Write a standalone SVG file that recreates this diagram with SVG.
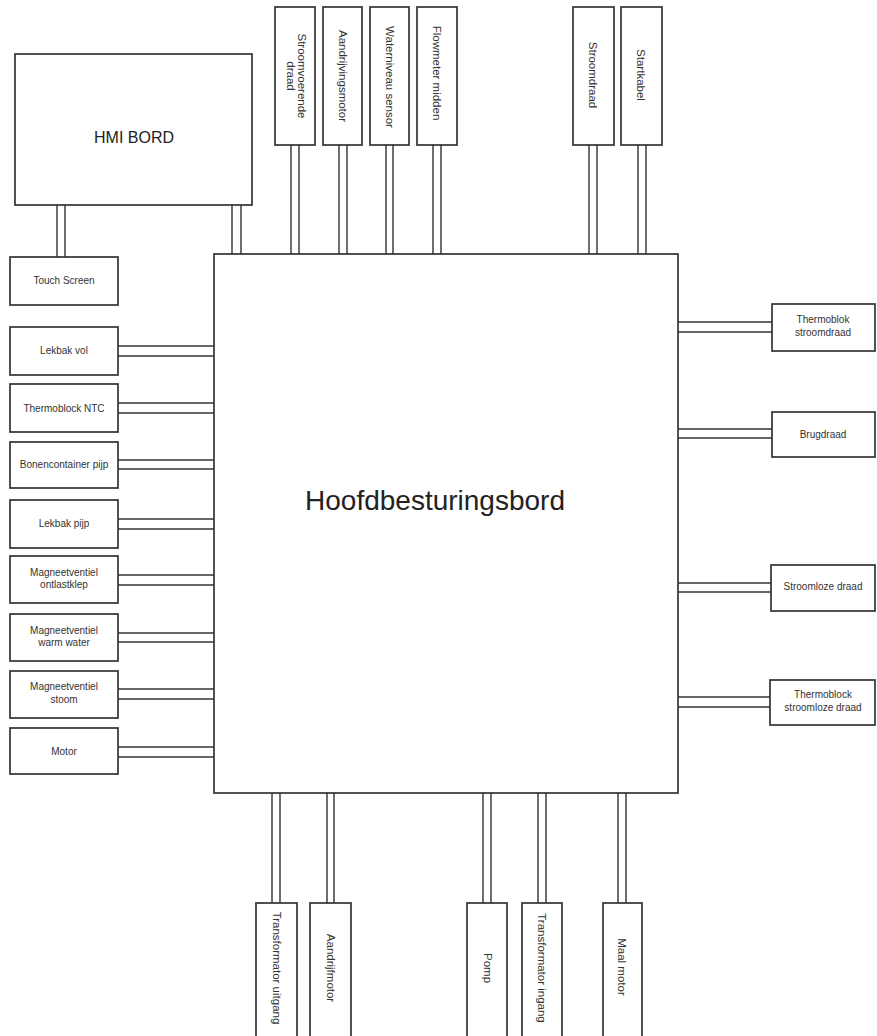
<svg xmlns="http://www.w3.org/2000/svg" width="877" height="1036" viewBox="0 0 877 1036">
<style>
.box{fill:#fff;stroke:#333;stroke-width:1.7}
.ln{stroke:#333;stroke-width:1.4;fill:none}
.t{font-family:"Liberation Sans",Arial,sans-serif;font-size:10px;fill:#333;text-anchor:middle}
.v{font-family:"Liberation Sans",Arial,sans-serif;font-size:11.5px;fill:#333;text-anchor:middle;dominant-baseline:central}
.big{font-family:"Liberation Sans",Arial,sans-serif;fill:#222;text-anchor:middle}
</style>
<rect width="877" height="1036" fill="#fff"/>
<g id="connectors">
<path class="ln" d="M57 205V257M65 205V257M232 205V254M241 205V254"/>
<path class="ln" d="M291 145V254M299 145V254M339 145V254M347 145V254M386 145V254M393 145V254M433 145V254M441 145V254M589 145V254M597 145V254M638 145V254M646 145V254"/>
<path class="ln" d="M118 346H214M118 356H214M118 403H214M118 413H214M118 460H214M118 469H214M118 519H214M118 529H214M118 575H214M118 585H214M118 633H214M118 642H214M118 689H214M118 699H214M118 747H214M118 757H214"/>
<path class="ln" d="M678 322H772M678 332H772M678 429H772M678 438H772M678 583H771M678 592H771M678 697H771M678 707H771"/>
<path class="ln" d="M272 793V903M280 793V903M327 793V903M334 793V903M483 793V903M491 793V903M538 793V903M546 793V903M618 793V903M626 793V903"/>
</g>
<g id="main"><rect class="box" x="214" y="254" width="464" height="539"/><text class="big" x="435" y="510" font-size="28">Hoofdbesturingsbord</text></g>
<g id="hmi"><rect class="box" x="15" y="54" width="237" height="151"/><text class="big" x="134" y="143" font-size="16">HMI BORD</text></g>
<g id="touch"><rect class="box" x="10" y="257" width="108" height="48"/><text class="t" x="64" y="284">Touch Screen</text></g>
<g id="top1"><rect class="box" x="275" y="7" width="40" height="138"/><g transform="translate(297,76) rotate(90)"><text class="v" x="0" y="-5">Stroomvoerende</text><text class="v" x="0" y="6">draad</text></g></g>
<g id="top2"><rect class="box" x="323" y="7" width="39" height="138"/><text class="v" transform="translate(343,76) rotate(90)">Aandrijvingsmotor</text></g>
<g id="top3"><rect class="box" x="370" y="7" width="39" height="138"/><text class="v" transform="translate(390,77) rotate(90)">Waterniveau sensor</text></g>
<g id="top4"><rect class="box" x="417" y="7" width="40" height="138"/><text class="v" transform="translate(437,73) rotate(90)">Flowmeter midden</text></g>
<g id="top5"><rect class="box" x="573" y="7" width="41" height="138"/><text class="v" transform="translate(593,75) rotate(90)">Stroomdraad</text></g>
<g id="top6"><rect class="box" x="621" y="7" width="41" height="138"/><text class="v" transform="translate(641,75) rotate(90)">Startkabel</text></g>
<g id="l1"><rect class="box" x="10" y="327" width="108" height="48"/><text class="t" x="64" y="354">Lekbak vol</text></g>
<g id="l2"><rect class="box" x="10" y="384" width="108" height="48"/><text class="t" x="64" y="412">Thermoblock NTC</text></g>
<g id="l3"><rect class="box" x="10" y="442" width="108" height="46"/><text class="t" x="64" y="468">Bonencontainer pijp</text></g>
<g id="l4"><rect class="box" x="10" y="500" width="108" height="48"/><text class="t" x="64" y="527">Lekbak pijp</text></g>
<g id="l5"><rect class="box" x="10" y="556" width="108" height="47"/><text class="t" x="64" y="576">Magneetventiel</text><text class="t" x="64" y="588">ontlastklep</text></g>
<g id="l6"><rect class="box" x="10" y="614" width="108" height="47"/><text class="t" x="64" y="634">Magneetventiel</text><text class="t" x="64" y="646">warm water</text></g>
<g id="l7"><rect class="box" x="10" y="671" width="108" height="47"/><text class="t" x="64" y="690">Magneetventiel</text><text class="t" x="64" y="703">stoom</text></g>
<g id="l8"><rect class="box" x="10" y="728" width="108" height="46"/><text class="t" x="64" y="755">Motor</text></g>
<g id="r1"><rect class="box" x="772" y="304" width="103" height="47"/><text class="t" x="823" y="323">Thermoblok</text><text class="t" x="823" y="336">stroomdraad</text></g>
<g id="r2"><rect class="box" x="772" y="412" width="103" height="45"/><text class="t" x="823" y="438">Brugdraad</text></g>
<g id="r3"><rect class="box" x="771" y="565" width="104" height="46"/><text class="t" x="823" y="590">Stroomloze draad</text></g>
<g id="r4"><rect class="box" x="770" y="680" width="105" height="45"/><text class="t" x="823" y="698">Thermoblock</text><text class="t" x="823" y="711">stroomloze draad</text></g>
<g id="b1"><rect class="box" x="256" y="903" width="41" height="145"/><text class="v" transform="translate(277,968) rotate(90)">Transformator uitgang</text></g>
<g id="b2"><rect class="box" x="310" y="903" width="41" height="145"/><text class="v" transform="translate(331,968) rotate(90)">Aandrijfmotor</text></g>
<g id="b3"><rect class="box" x="467" y="903" width="40" height="145"/><text class="v" transform="translate(488,968) rotate(90)">Pomp</text></g>
<g id="b4"><rect class="box" x="522" y="903" width="40" height="145"/><text class="v" transform="translate(542,968) rotate(90)">Transformator ingang</text></g>
<g id="b5"><rect class="box" x="603" y="903" width="39" height="145"/><text class="v" transform="translate(622,967) rotate(90)">Maal motor</text></g>
</svg>
